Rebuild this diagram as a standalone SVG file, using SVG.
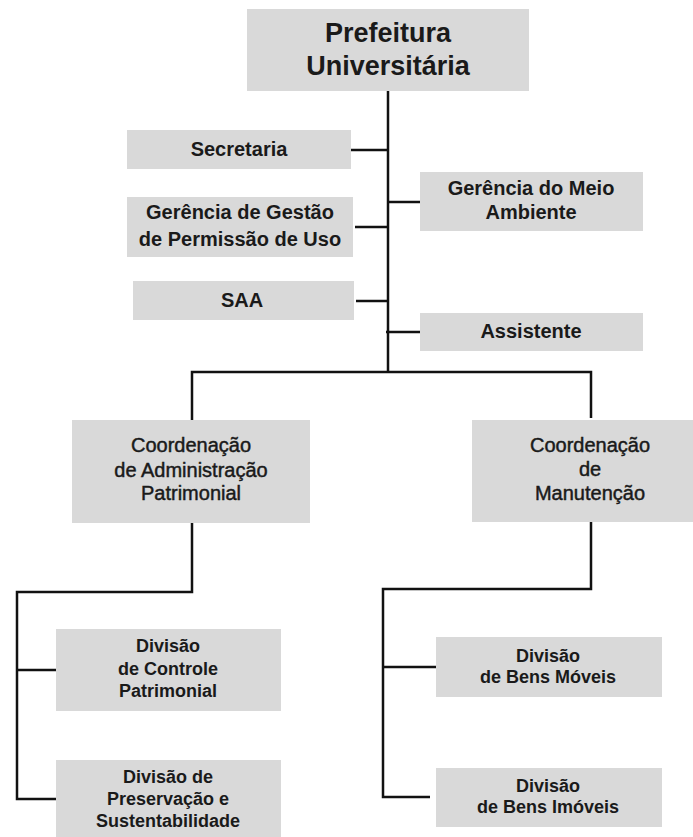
<svg xmlns="http://www.w3.org/2000/svg" width="693" height="837" viewBox="0 0 693 837">
<style>
.box{fill:#d9d9d9;}
.t{font-family:"Liberation Sans",Arial,sans-serif;font-weight:bold;fill:#1a1a1a;text-anchor:middle;}
.r{font-family:"Liberation Sans",Arial,sans-serif;font-weight:normal;fill:#1a1a1a;stroke:#1a1a1a;stroke-width:0.45;text-anchor:middle;}
.c{fill:none;stroke:#111;stroke-width:2.5;stroke-linecap:butt;stroke-linejoin:miter;}
</style>
<rect width="693" height="837" fill="#fff"/>
<g id="connectors">
<path class="c" d="M388,91 V373"/>
<path class="c" d="M351,150 H388"/>
<path class="c" d="M355,227 H388"/>
<path class="c" d="M356,301 H388"/>
<path class="c" d="M388,202 H420"/>
<path class="c" d="M386,332 H420"/>
<path class="c" d="M192,420 V372 H591 V418"/>
<path class="c" d="M192,523 V592 H17 V799 H56"/>
<path class="c" d="M17,670 H56"/>
<path class="c" d="M591,522 V589 H383 V797 H430"/>
<path class="c" d="M383,667 H436"/>
</g>
<g id="prefeitura">
<rect class="box" x="247" y="9" width="282" height="82"/>
<text class="t" x="388" y="42" font-size="27">Prefeitura</text>
<text class="t" x="388" y="75" font-size="27">Universitária</text>
</g>
<g id="secretaria">
<rect class="box" x="127" y="130" width="224" height="39"/>
<text class="t" x="239" y="156" font-size="20">Secretaria</text>
</g>
<g id="gestao">
<rect class="box" x="127" y="197" width="226" height="60"/>
<text class="t" x="240" y="219" font-size="20">Gerência de Gestão</text>
<text class="t" x="240" y="246" font-size="20">de Permissão de Uso</text>
</g>
<g id="saa">
<rect class="box" x="133" y="281" width="221" height="39"/>
<text class="t" x="242" y="307" font-size="20">SAA</text>
</g>
<g id="meio-ambiente">
<rect class="box" x="420" y="172" width="223" height="59"/>
<text class="t" x="531" y="195" font-size="20">Gerência do Meio</text>
<text class="t" x="531" y="219" font-size="20">Ambiente</text>
</g>
<g id="assistente">
<rect class="box" x="420" y="313" width="223" height="38"/>
<text class="t" x="531" y="338" font-size="20">Assistente</text>
</g>
<g id="coord-adm">
<rect class="box" x="72" y="420" width="238" height="103"/>
<text class="r" x="191" y="452" font-size="20">Coordenação</text>
<text class="r" x="191" y="477" font-size="20">de Administração</text>
<text class="r" x="191" y="500" font-size="20">Patrimonial</text>
</g>
<g id="coord-man">
<rect class="box" x="472" y="420" width="238" height="102"/>
<text class="r" x="590" y="452" font-size="20">Coordenação</text>
<text class="r" x="590" y="476" font-size="20">de</text>
<text class="r" x="590" y="500" font-size="20">Manutenção</text>
</g>
<g id="div-controle">
<rect class="box" x="56" y="629" width="225" height="82"/>
<text class="t" x="168" y="652" font-size="18">Divisão</text>
<text class="t" x="168" y="675" font-size="18">de Controle</text>
<text class="t" x="168" y="697" font-size="18">Patrimonial</text>
</g>
<g id="div-preservacao">
<rect class="box" x="56" y="760" width="225" height="80"/>
<text class="t" x="168" y="783" font-size="18">Divisão de</text>
<text class="t" x="168" y="805" font-size="18">Preservação e</text>
<text class="t" x="168" y="827" font-size="18">Sustentabilidade</text>
</g>
<g id="div-moveis">
<rect class="box" x="436" y="637" width="226" height="60"/>
<text class="t" x="548" y="662" font-size="18">Divisão</text>
<text class="t" x="548" y="683" font-size="18">de Bens Móveis</text>
</g>
<g id="div-imoveis">
<rect class="box" x="436" y="768" width="226" height="59"/>
<text class="t" x="548" y="792" font-size="18">Divisão</text>
<text class="t" x="548" y="813" font-size="18">de Bens Imóveis</text>
</g>
</svg>
